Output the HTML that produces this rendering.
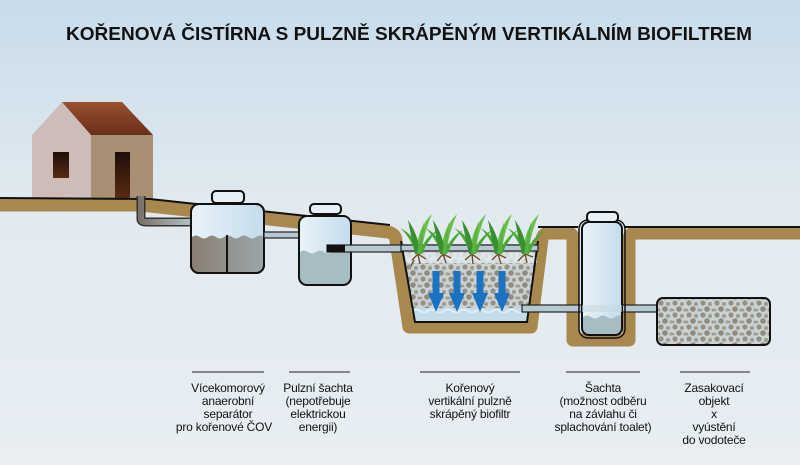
<!DOCTYPE html>
<html><head><meta charset="utf-8">
<style>
html,body{margin:0;padding:0;}
body{width:800px;height:465px;overflow:hidden;}
svg{display:block;}
text{font-family:"Liberation Sans",sans-serif;}
</style></head>
<body>
<svg width="800" height="465" viewBox="0 0 800 465" xmlns="http://www.w3.org/2000/svg">
<defs>
<linearGradient id="bg" x1="0" y1="0" x2="0" y2="1">
<stop offset="0" stop-color="#c8dcea"/><stop offset="0.45" stop-color="#e2eaf0"/><stop offset="1" stop-color="#e8eef2"/>
</linearGradient>
<linearGradient id="roof" x1="0" y1="0" x2="0" y2="1">
<stop offset="0" stop-color="#9a5030"/><stop offset="1" stop-color="#6a2f18"/>
</linearGradient>
<linearGradient id="dark" x1="0" y1="0" x2="0" y2="1">
<stop offset="0" stop-color="#1e0e08"/><stop offset="1" stop-color="#5a2a14"/>
</linearGradient>
<linearGradient id="tank" x1="0" y1="0" x2="1" y2="0">
<stop offset="0" stop-color="#eaf2f8"/><stop offset="1" stop-color="#c4dcec"/>
</linearGradient>
<linearGradient id="sludge" x1="0" y1="0" x2="1" y2="0">
<stop offset="0" stop-color="#8a7e72"/><stop offset="1" stop-color="#9aa6aa"/>
</linearGradient>
<linearGradient id="pipe" x1="0" y1="0" x2="1" y2="0">
<stop offset="0" stop-color="#7c746c"/><stop offset="1" stop-color="#b4c4cc"/>
</linearGradient>
<pattern id="grav" width="14" height="12" patternUnits="userSpaceOnUse">
<rect width="14" height="12" fill="#c9d3d6"/>
<circle cx="3" cy="3" r="2.6" fill="#978f80"/>
<circle cx="10" cy="4" r="2" fill="#a09a8c"/>
<circle cx="7" cy="9" r="2.8" fill="#928a7c"/>
<circle cx="13" cy="10" r="1.6" fill="#a39c8e"/>
<circle cx="1" cy="10" r="1.4" fill="#a39c8e"/>
</pattern>
</defs>
<rect width="800" height="465" fill="url(#bg)"/>
<text x="409" y="40" text-anchor="middle" font-size="18" font-weight="bold" fill="#111" textLength="686" lengthAdjust="spacingAndGlyphs">KOŘENOVÁ ČISTÍRNA S PULZNĚ SKRÁPĚNÝM VERTIKÁLNÍM BIOFILTREM</text>

<!-- house -->
<polygon points="32,135 62,102 91,135 91,198 32,198" fill="#cdbcba"/>
<polygon points="91,135 153,135 153,198 91,198" fill="#a89074"/>
<polygon points="62,102 122,102 153,135 91,135" fill="url(#roof)"/>
<rect x="53" y="152" width="16" height="26" fill="url(#dark)"/>
<rect x="115" y="152" width="15" height="46" fill="url(#dark)"/>

<!-- soil band -->
<path d="M0,205 L140,205 L150,206 L388,232 Q396,234 396,241 L409,327 L531,327 L542,239 Q543,233 549,233 L568,233 Q573,233 573,239 L573,340 L629,340 L629,239 Q629,233 636,233 L800,233" fill="none" stroke="#a8884c" stroke-width="13" stroke-linejoin="round"/>
<polyline points="0,198 150,199 390,225" fill="none" stroke="#111" stroke-width="2"/>
<path d="M538,227 L578,227" stroke="#111" stroke-width="2"/>
<path d="M624,227 L800,227" stroke="#111" stroke-width="2"/>

<!-- house pipe -->
<path d="M141,196 L141,219 Q141,222 146,222 L193,222" fill="none" stroke="#333" stroke-width="9"/>
<path d="M141,196 L141,219 Q141,222 146,222 L193,222" fill="none" stroke="url(#pipe)" stroke-width="6"/>

<!-- tank1 -->
<rect x="191" y="204" width="73" height="69" rx="8" fill="url(#tank)" stroke="#111" stroke-width="2"/>
<path d="M192,237 q4,-3 8,0 t8,0 t8,0 t8,0 t8,0 t8,0 t8,0 t8,0 t8,0 L263,265 Q263,272 256,272 L199,272 Q192,272 192,265 Z" fill="url(#sludge)"/>
<rect x="191" y="204" width="73" height="69" rx="8" fill="none" stroke="#111" stroke-width="2"/>
<line x1="227" y1="235" x2="227" y2="273" stroke="#111" stroke-width="2"/>
<rect x="212" y="191" width="32" height="12" rx="4" fill="#e6f0f6" stroke="#111" stroke-width="2"/>
<rect x="264" y="232" width="36" height="6" fill="#b6c8d2" stroke="#222" stroke-width="1.2"/>

<!-- tank2 -->
<rect x="299" y="216" width="52" height="69" rx="8" fill="url(#tank)"/>
<path d="M300,252 q4,-3 8,0 t8,0 t8,0 t8,0 L350,248 L350,277 Q350,284 343,284 L307,284 Q300,284 300,277 Z" fill="#a8bcc4"/>
<rect x="299" y="216" width="52" height="69" rx="8" fill="none" stroke="#111" stroke-width="2"/>
<rect x="310" y="204" width="31" height="10" rx="4" fill="#e6f0f6" stroke="#111" stroke-width="2"/>
<rect x="327" y="245" width="210" height="7" fill="#b6c8d2" stroke="#222" stroke-width="1.2"/>
<rect x="327" y="245" width="18" height="7" fill="#111"/>

<!-- basin -->
<polygon points="401,245 538,245 527,322 415,322" fill="url(#grav)"/>
<rect x="404" y="253" width="133" height="10" fill="#e6eef2" opacity="0.8"/>
<polygon points="411,308 530,308 527,322 415,322" fill="#c4dcea"/>
<path d="M412,311 q4,-3 8,0 t8,0 t8,0 t8,0 t8,0 t8,0 t8,0 t8,0 t8,0 t8,0 t8,0 t8,0 t8,0 t8,0 t8,0" fill="none" stroke="#e8f2f8" stroke-width="1.5"/>
<polyline points="401,241 415,322 527,322 538,241" fill="none" stroke="#111" stroke-width="2"/>
<rect x="401" y="245" width="137" height="6" fill="#b6c8d2" stroke="#222" stroke-width="1.2"/>
<!-- roots -->
<g stroke="#6a4426" stroke-width="1.3" fill="none">
<path d="M418,254 l-6,6 m6,-6 l2,10 m-2,-10 l8,5 m-12,1 l-3,6"/>
<path d="M443,254 l-6,7 m6,-7 l3,9 m-3,-9 l8,4"/>
<path d="M472,254 l-7,6 m7,-6 l1,10 m-1,-10 l8,6"/>
<path d="M498,254 l-6,6 m6,-6 l3,10 m-3,-10 l8,4"/>
<path d="M525,254 l-7,7 m7,-7 l2,9 m-2,-9 l8,3"/>
</g>
<!-- grass -->
<g fill="#4aa838">
<g id="g1">
<path d="M417,254 Q408,234 400,228 Q414,234 421,254 Z"/>
<path d="M416,254 Q417,228 432,214 Q424,232 421,254 Z" fill="#6cc04a"/>
<path d="M418,254 Q426,236 438,230 Q428,240 422,254 Z"/>
<path d="M415,254 Q411,236 408,220 Q419,236 420,254 Z" fill="#3a9030"/>
<path d="M417,254 Q420,236 424,222 Q423,240 421,254 Z" fill="#58b240"/>
</g>
<use href="#g1" x="25"/>
<use href="#g1" x="54"/>
<use href="#g1" x="80"/>
<use href="#g1" x="107"/>
</g>
<!-- arrows -->
<g fill="#1a72c2">
<g id="ar"><rect x="432.5" y="271" width="7" height="24"/><polygon points="428,293 444,293 436,312"/></g>
<use href="#ar" x="21"/>
<use href="#ar" x="44"/>
<use href="#ar" x="66"/>
</g>

<!-- pipes to shaft and block -->
<rect x="522" y="305" width="62" height="7" fill="#b6c8d2" stroke="#222" stroke-width="1.2"/>
<rect x="618" y="305" width="42" height="7" fill="#b6c8d2" stroke="#222" stroke-width="1.2"/>

<!-- shaft -->
<rect x="579" y="220" width="46" height="118" rx="9" fill="none" stroke="#111" stroke-width="1.5"/>
<rect x="582" y="222" width="40" height="113" rx="7" fill="url(#tank)"/>
<path d="M583,317 q4,-3 8,0 t8,0 t8,0 t8,0 t8,0 L621,328 Q621,334 615,334 L589,334 Q583,334 583,328 Z" fill="#a8bcc4"/>
<rect x="582" y="222" width="40" height="113" rx="7" fill="none" stroke="#111" stroke-width="2"/>
<rect x="587" y="212" width="31" height="10" rx="4" fill="#e6f0f6" stroke="#111" stroke-width="2"/>
<rect x="582" y="305" width="40" height="7" fill="#c8d8e0" opacity="0.6"/>

<!-- infiltration block -->
<rect x="657" y="298" width="113" height="47" rx="6" fill="url(#grav)" stroke="#111" stroke-width="2"/>

<!-- labels -->
<g stroke="#222" stroke-width="1">
<line x1="192" y1="372" x2="264" y2="372"/>
<line x1="289" y1="372" x2="350" y2="372"/>
<line x1="420" y1="372" x2="520" y2="372"/>
<line x1="566" y1="372" x2="640" y2="372"/>
<line x1="680" y1="372" x2="750" y2="372"/>
</g>
<g font-size="12" fill="#111" text-anchor="middle" letter-spacing="-0.2">
<text x="228" y="392">Vícekomorový</text>
<text x="228" y="405">anaerobní</text>
<text x="228" y="418">separátor</text>
<text x="224" y="431">pro kořenové ČOV</text>
<text x="318" y="392">Pulzní šachta</text>
<text x="318" y="405">(nepotřebuje</text>
<text x="318" y="418">elektrickou</text>
<text x="318" y="431">energii)</text>
<text x="470" y="392">Kořenový</text>
<text x="470" y="405">vertikální pulzně</text>
<text x="470" y="418">skrápěný biofiltr</text>
<text x="603" y="392">Šachta</text>
<text x="603" y="405">(možnost odběru</text>
<text x="603" y="418">na závlahu či</text>
<text x="603" y="431">splachování toalet)</text>
<text x="714" y="392">Zasakovací</text>
<text x="714" y="405">objekt</text>
<text x="714" y="418">x</text>
<text x="714" y="431">vyústění</text>
<text x="714" y="444">do vodoteče</text>
</g>
</svg>
</body></html>
